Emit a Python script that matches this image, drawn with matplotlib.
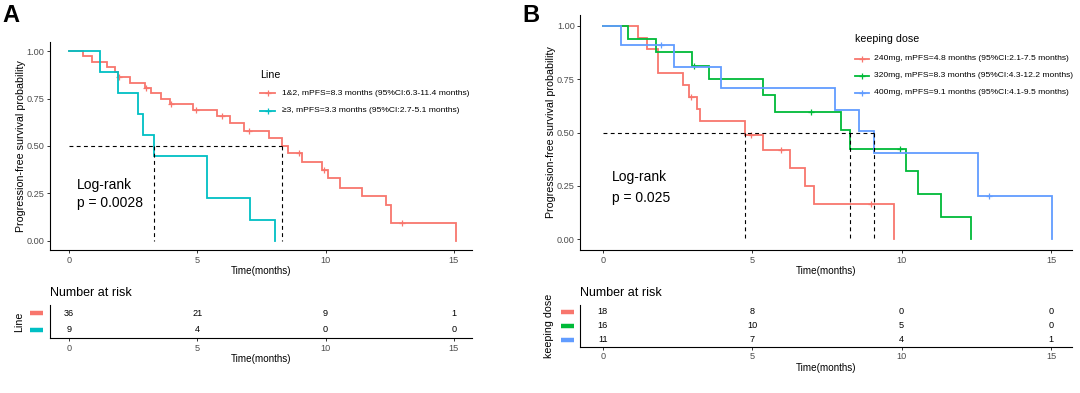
import matplotlib
matplotlib.use('Agg')
import matplotlib.pyplot as plt
from matplotlib.lines import Line2D
import numpy as np

plt.rcParams['font.family'] = ['Liberation Sans', 'DejaVu Sans']

W, H, DPI = 1080, 393, 100

# ---------------- Panel A data (Line) ----------------
a_title = 'Line'
a_labels = ['1&2, mPFS=8.3 months (95%CI:6.3-11.4 months)',
            '≥3, mPFS=3.3 months (95%CI:2.7-5.1 months)']
a_colors = ['#F8766D', '#00BFC4']
a1_t = [0.56, 0.89, 1.47, 1.80, 1.89, 2.38, 2.96, 3.19, 3.58, 3.94, 4.82, 5.77,
        6.28, 6.80, 7.81, 8.30, 8.55, 9.07, 9.85, 10.11, 10.56, 11.41, 12.35, 12.55, 15.08]
a1_s = [0.972, 0.944, 0.917, 0.889, 0.861, 0.833, 0.806, 0.778, 0.750, 0.722, 0.690, 0.660,
        0.620, 0.580, 0.540, 0.497, 0.460, 0.416, 0.375, 0.330, 0.280, 0.235, 0.187, 0.094, 0.0]
a1_cens = [1.96, 3.00, 3.98, 4.95, 5.96, 7.00, 8.97, 9.95, 12.96]
a2_t = [1.20, 1.90, 2.68, 2.87, 3.30, 5.38, 7.07, 8.01]
a2_s = [0.889, 0.778, 0.667, 0.556, 0.444, 0.222, 0.111, 0.0]
a2_cens = []
a_medians = [8.30, 3.30]
a_risk_times = [0, 5, 10, 15]
a_risk = [[36, 21, 9, 1], [9, 4, 0, 0]]
a_logrank = ['Log-rank', 'p = 0.0028']

# ---------------- Panel B data (keeping dose) ----------------
b_title = 'keeping dose'
b_labels = ['240mg, mPFS=4.8 months (95%CI:2.1-7.5 months)',
            '320mg, mPFS=8.3 months (95%CI:4.3-12.2 months)',
            '400mg, mPFS=9.1 months (95%CI:4.1-9.5 months)']
b_colors = ['#F8766D', '#00BA38', '#619CFF']
b1_t = [1.19, 1.49, 1.85, 2.69, 2.87, 3.15, 3.27, 4.76, 5.37, 6.26, 6.76, 7.07, 9.76]
b1_s = [0.944, 0.889, 0.778, 0.722, 0.667, 0.611, 0.556, 0.486, 0.417, 0.333, 0.250, 0.167, 0.0]
b1_cens = [2.95, 4.96, 5.96, 8.96]
b2_t = [0.85, 1.78, 2.99, 3.57, 5.37, 5.77, 7.96, 8.26, 10.13, 10.55, 11.33, 12.33]
b2_s = [0.9375, 0.875, 0.8125, 0.750, 0.675, 0.596, 0.511, 0.425, 0.319, 0.213, 0.106, 0.0]
b2_cens = [3.05, 6.96, 9.96]
b3_t = [0.60, 2.39, 3.96, 7.76, 8.57, 9.07, 12.55, 15.03]
b3_s = [0.909, 0.808, 0.707, 0.606, 0.505, 0.404, 0.202, 0.0]
b3_cens = [1.96, 12.92]
b_medians = [4.76, 8.26, 9.07]
b_risk_times = [0, 5, 10, 15]
b_risk = [[18, 8, 0, 0], [16, 10, 5, 0], [11, 7, 4, 1]]
b_logrank = ['Log-rank', 'p = 0.025']

x_ticks = [0, 5, 10, 15]
y_ticks = [0.0, 0.25, 0.50, 0.75, 1.00]


def fx(px):
    return px / W


def fy(py):
    return 1 - py / H


def add_axes(l, t, r, b):
    return fig.add_axes([fx(l), fy(b), fx(r) - fx(l), fy(t) - fy(b)])


def style_axes(ax):
    for s in ['top', 'right']:
        ax.spines[s].set_visible(False)
    for s in ['left', 'bottom']:
        ax.spines[s].set_linewidth(0.8)
        ax.spines[s].set_color('black')
    ax.tick_params(axis='both', length=2.5, width=0.7, color='#333333',
                   labelsize=6.6, labelcolor='#4D4D4D', pad=1.5)


def s_at(t_list, s_list, t):
    T = np.r_[0.0, t_list]
    S = np.r_[1.0, s_list]
    return S[np.searchsorted(T, t, side='right') - 1]


fig = plt.figure(figsize=(W / DPI, H / DPI), dpi=DPI)


def draw_panel(box, tbox, curves, colors, medians, logrank, lr_pos, lr_gap,
               ylab_x, title, labels, leg, risk_times, risk, tab_ylabel,
               tab_ylab_x, sw, xlab_y, tab_xlab_y, nar_y, letter, letter_x):
    ax = add_axes(*box)
    style_axes(ax)
    for (t, s, c), col in zip(curves, colors):
        ax.step(np.r_[0.0, t], np.r_[1.0, s], where='post', color=col, lw=1.3,
                solid_joinstyle='miter')
        if c:
            ax.plot(c, [s_at(t, s, ci) for ci in c], ls='none', marker='+',
                    ms=5, mew=0.9, color=col)
    ax.plot([0, max(medians)], [0.5, 0.5], ls=(0, (3.5, 3)), color='black', lw=0.8)
    for m in medians:
        ax.plot([m, m], [0.5, 0], ls=(0, (3.5, 3)), color='black', lw=0.8)
    ax.set_xlim(-0.75, 15.7)
    ax.set_ylim(-0.05, 1.05)
    ax.set_xticks(x_ticks)
    ax.set_yticks(y_ticks)
    ax.set_yticklabels(['%.2f' % v for v in y_ticks])
    ax.set_ylabel('Progression-free survival probability', fontsize=7.7, color='black')
    ax.yaxis.set_label_coords(ylab_x, 0.5)
    ax.set_xlabel('Time(months)', fontsize=7.1, color='black')
    ax.xaxis.set_label_coords(0.5, xlab_y)
    ax.text(lr_pos[0], lr_pos[1], logrank[0], fontsize=10, va='center', ha='left')
    ax.text(lr_pos[0], lr_pos[1] - lr_gap, logrank[1], fontsize=10, va='center', ha='left')

    # legend
    lx0, lx1, ltx, ly_title, ly_rows = leg
    fig.text(fx(lx0), fy(ly_title), title, fontsize=7.7, va='center', ha='left')
    for lab, col, yy in zip(labels, colors, ly_rows):
        fig.add_artist(Line2D([fx(lx0), fx(lx1)], [fy(yy), fy(yy)], color=col, lw=1.3))
        fig.add_artist(Line2D([fx((lx0 + lx1) / 2)], [fy(yy)], color=col, marker='+',
                              ms=5, mew=0.9, ls='none'))
        fig.text(fx(ltx), fy(yy), lab, fontsize=6.1, va='center', ha='left')

    # risk table
    tx = add_axes(*tbox)
    style_axes(tx)
    n = len(risk)
    tx.set_xlim(-0.75, 15.7)
    tx.set_ylim(0.5, n + 0.5)
    tx.set_xticks(x_ticks)
    tx.set_yticks([])
    for i, (row, col) in enumerate(zip(risk, colors)):
        yv = n - i
        for tt, v in zip(risk_times, row):
            tx.text(tt, yv, str(v), fontsize=6.6, ha='center', va='center', color='black')
        tx.plot([sw[0], sw[1]], [yv, yv], color=col, lw=3.2, clip_on=False,
                transform=tx.get_yaxis_transform() if False else
                matplotlib.transforms.blended_transform_factory(tx.transAxes, tx.transData),
                solid_capstyle='butt')
    tx.set_ylabel(tab_ylabel, fontsize=7.7, color='black')
    tx.yaxis.set_label_coords(tab_ylab_x, 0.5)
    tx.set_xlabel('Time(months)', fontsize=7.1, color='black')
    tx.xaxis.set_label_coords(0.5, tab_xlab_y)
    tx.text(0, nar_y, 'Number at risk', fontsize=9, transform=tx.transAxes,
            ha='left', va='center')
    fig.text(fx(letter_x), fy(21.5), letter, fontsize=17, fontweight='bold',
             ha='left', va='baseline')


# Panel A
a_curves = [(a1_t, a1_s, a1_cens), (a2_t, a2_s, a2_cens)]
draw_panel(box=(49.9, 41.7, 471.8, 250), tbox=(49.9, 305, 471.8, 338.3),
           curves=a_curves, colors=a_colors, medians=a_medians, logrank=a_logrank,
           lr_pos=(0.30, 0.293), lr_gap=0.095, ylab_x=-0.057, title=a_title,
           labels=a_labels, leg=(260, 275, 281.7, 75, [93.3, 110.7]),
           risk_times=a_risk_times, risk=a_risk, tab_ylabel=a_title,
           tab_ylab_x=-0.061, sw=(-0.046, -0.016), xlab_y=-0.075, tab_xlab_y=-0.46,
           nar_y=1.37, letter='A', letter_x=2)

# Panel B
b_curves = [(b1_t, b1_s, b1_cens), (b2_t, b2_s, b2_cens), (b3_t, b3_s, b3_cens)]
draw_panel(box=(580.3, 15, 1072, 250), tbox=(580.3, 305, 1072, 346.7),
           curves=b_curves, colors=b_colors, medians=b_medians, logrank=b_logrank,
           lr_pos=(0.30, 0.292), lr_gap=0.098, ylab_x=-0.050, title=b_title,
           labels=b_labels, leg=(855, 869, 874.3, 39.3, [58.5, 75.5, 92.5]),
           risk_times=b_risk_times, risk=b_risk, tab_ylabel=b_title,
           tab_ylab_x=-0.0525, sw=(-0.040, -0.012), xlab_y=-0.066, tab_xlab_y=-0.38,
           nar_y=1.295, letter='B', letter_x=522)

fig.savefig('out.png', dpi=DPI)
